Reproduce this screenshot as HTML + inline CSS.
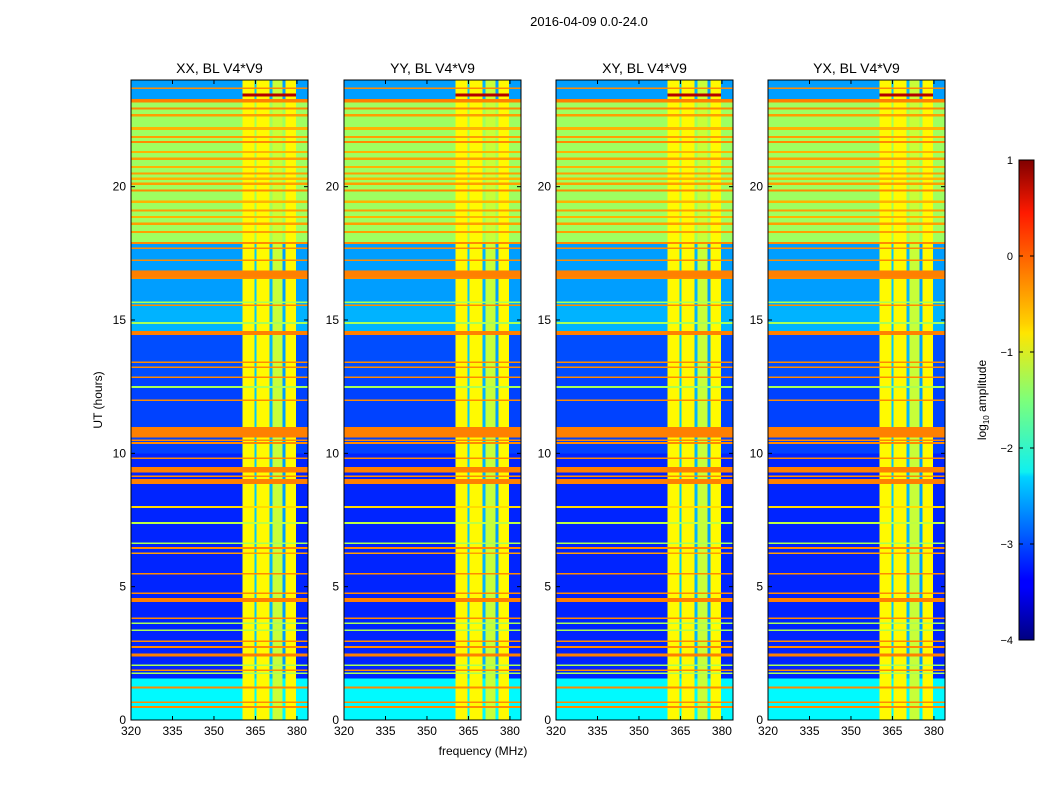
<!DOCTYPE html>
<html><head><meta charset="utf-8"><style>
body{margin:0;background:#fff;}
svg{display:block;font-family:"Liberation Sans",sans-serif;}
</style></head><body>
<svg id="fig" width="1050" height="800" viewBox="0 0 1050 800">
<rect width="1050" height="800" fill="#fff"/>
<text x="589" y="26" font-size="13" text-anchor="middle">2016-04-09 0.0-24.0</text>
<text x="483" y="755" font-size="12" text-anchor="middle">frequency (MHz)</text>
<text x="102" y="400" font-size="12" text-anchor="middle" transform="rotate(-90 102 400)">UT (hours)</text>
<g id="panels"></g>
<defs><linearGradient id="jet" x1="0" y1="1" x2="0" y2="0">
<stop offset="0" stop-color="#000080"/><stop offset="0.11" stop-color="#0000ff"/><stop offset="0.125" stop-color="#0000ff"/>
<stop offset="0.34" stop-color="#00d4ff"/><stop offset="0.35" stop-color="#0ff0f0"/><stop offset="0.5" stop-color="#7dff7a"/>
<stop offset="0.64" stop-color="#ffe600"/><stop offset="0.66" stop-color="#ffd000"/><stop offset="0.89" stop-color="#ff1a00"/><stop offset="1" stop-color="#800000"/>
</linearGradient></defs>
<g>
<rect x="1019" y="160" width="15" height="480" fill="url(#jet)" stroke="#000" stroke-width="1"/>
</g>
<g id="cbticks"></g>
<text x="986" y="400" font-size="12" text-anchor="middle" transform="rotate(-90 986 400)">log<tspan font-size="8" dy="3">10</tspan><tspan dy="-3"> amplitude</tspan></text>
</svg>
<script>
// ---- data ----
const panelTitles = ["XX, BL V4*V9","YY, BL V4*V9","XY, BL V4*V9","YX, BL V4*V9"];
const xTicks = [320,335,350,365,380];
const yTicks = [0,5,10,15,20];
const cbTicks = [1,0,-1,-2,-3,-4];
// background level per time span [startHour, endHour, log10 amplitude]
const baseSpans = [[0,1.57,-2.15],[1.57,10,-3.2],[10,12.9,-3.05],[12.9,14.5,-3.0],[14.5,15.7,-2.5],[15.7,17.9,-2.6],[17.9,23.2,-1.35],[23.2,24,-2.6]];
// frequency columns [startMHz, endMHz, level]
const colSpans = [[320,360.4,-9],[360.4,364.7,-0.85],[364.7,365.4,-2.4],[365.4,370.1,-0.85],[370.1,371.2,-2.5],[371.2,374.7,-1.15],[374.7,375.8,-2.6],[375.8,379.7,-0.85],[379.7,384,-3.4]];
// flagged lines [centerHour, thicknessHour, level, bandOnly]
const lineSpans = [
[0.5,0.06,-0.3,0],[0.68,0.06,-0.3,0],[1.23,0.06,-0.3,0],[1.76,0.06,-1.3,0],[1.87,0.06,-0.3,0],[2.06,0.06,-1.3,0],
[2.45,0.12,-0.25,0],[2.75,0.06,-0.3,0],[2.97,0.06,-0.3,0],[3.37,0.06,-1.3,0],[3.64,0.06,-1.3,0],[3.82,0.06,-0.3,0],
[4.51,0.14,-0.25,0],[4.76,0.06,-0.3,0],[5.5,0.06,-0.3,0],[6.26,0.06,-0.4,0],[6.46,0.06,-0.3,0],[6.64,0.06,-1.3,0],
[7.4,0.06,-1.2,0],[8.0,0.06,-0.7,0],[8.96,0.18,-0.25,0],[9.15,0.06,-0.3,0],[9.4,0.2,-0.25,0],[9.82,0.06,-0.3,0],
[10.4,0.06,-0.3,0],[10.5,0.06,-0.3,0],[10.8,0.38,-0.25,0],[12.0,0.06,-0.3,0],[12.5,0.06,-1.3,0],[12.86,0.06,-0.3,0],
[13.24,0.06,-0.3,0],[13.42,0.06,-0.3,0],[14.53,0.15,-0.25,0],[14.9,0.06,-1.3,0],[15.56,0.06,-0.3,0],[15.67,0.06,-1.3,0],
[16.57,0.06,-0.3,0],[16.74,0.27,-0.25,0],[17.25,0.06,-0.3,0],[17.7,0.06,-0.3,0],[17.9,0.06,-0.3,0],
[18.31,0.08,-0.4,0],[18.62,0.08,-0.4,0],[18.87,0.08,-0.5,0],[19.12,0.08,-0.4,0],[19.44,0.1,-0.5,0],[19.87,0.08,-0.3,0],
[20.12,0.08,-0.4,0],[20.31,0.08,-0.5,0],[20.5,0.08,-0.4,0],[20.75,0.08,-0.5,0],[21.06,0.08,-0.4,0],[21.31,0.08,-0.5,0],
[21.69,0.08,-0.3,0],[21.87,0.08,-0.4,0],[22.19,0.1,-0.5,0],[22.69,0.08,-0.4,0],[22.94,0.08,-0.3,0],
[23.23,0.14,-0.25,0],[23.45,0.12,0.75,1],[23.7,0.06,-0.3,0]
];
// ---- rendering ----
const NS="http://www.w3.org/2000/svg";
const panelX=[131,344,556,768], PW=177, PT=80, PB=720, FMIN=320, FMAX=384, TMAX=24, VMIN=-4, VMAX=1;
function jet(v){let x=(v-VMIN)/(VMAX-VMIN);x=Math.max(0,Math.min(1,x));
 const c=a=>Math.round(255*Math.max(0,Math.min(1,1.5-Math.abs(4*x-a))));
 return `rgb(${c(3)},${c(2)},${c(1)})`;}
function el(tag,attrs,parent){const e=document.createElementNS(NS,tag);for(const k in attrs)e.setAttribute(k,attrs[k]);parent.appendChild(e);return e;}
function valueAt(t,f){
 let band = f>=360.4 && f<379.7;
 let line=null;
 for(const l of lineSpans){ if(t>=l[0]-l[1]/2 && t<l[0]+l[1]/2 && (!l[3]||band)) line=l; }
 if(line) return line[2];
 let base=-3;
 for(const b of baseSpans) if(t>=b[0]&&t<b[1]) base=b[2];
 let col=-9;
 for(const c of colSpans) if(f>=c[0]&&f<c[1]) col=c[2];
 return Math.max(base,col);
}
let tb=new Set([0,TMAX]);
baseSpans.forEach(b=>{tb.add(b[0]);tb.add(b[1]);});
lineSpans.forEach(l=>{tb.add(l[0]-l[1]/2);tb.add(l[0]+l[1]/2);});
tb=[...tb].filter(v=>v>=0&&v<=TMAX).sort((a,b)=>a-b);
let fb=new Set([FMIN,FMAX]);colSpans.forEach(c=>{fb.add(c[0]);fb.add(c[1]);});
fb=[...fb].sort((a,b)=>a-b);
const root=document.getElementById('panels');
panelX.forEach((px,pi)=>{
 const xs=f=>px+(f-FMIN)/(FMAX-FMIN)*PW;
 const ys=t=>PB-(t/TMAX)*(PB-PT);
 const g=el('g',{},root);
 
 
 const hm=el('g',{'shape-rendering':'crispEdges'},g);
 
 
 for(let i=0;i<tb.length-1;i++){
  const t0=tb[i],t1=tb[i+1],tm=(t0+t1)/2;
  for(let j=0;j<fb.length-1;j++){
   const f0=fb[j],f1=fb[j+1];
   const r=el('rect',{x:xs(f0),y:ys(t1),width:xs(f1)-xs(f0)+0.3,height:ys(t0)-ys(t1)+0.3,fill:jet(valueAt(tm,(f0+f1)/2))},hm);
   
   
  }
 }
 const fr=el('rect',{x:px,y:PT,width:PW,height:PB-PT,fill:'none',stroke:'#000','stroke-width':1},g);
 
 
 const tt=el('text',{x:px+PW/2,y:PT-7,'font-size':14,'text-anchor':'middle'},g);tt.textContent=panelTitles[pi];
 
 
 xTicks.forEach(v=>{const x=xs(v);
  el('line',{x1:x,x2:x,y1:PB,y2:PB-4,stroke:'#000'},g);el('line',{x1:x,x2:x,y1:PT,y2:PT+4,stroke:'#000'},g);
  const l=el('text',{x:x,y:PB+15,'font-size':12,'text-anchor':'middle'},g);l.textContent=v;
  
  });
 yTicks.forEach(v=>{const y=ys(v);
  el('line',{x1:px,x2:px+4,y1:y,y2:y,stroke:'#000'},g);el('line',{x1:px+PW,x2:px+PW-4,y1:y,y2:y,stroke:'#000'},g);
  const l=el('text',{x:px-5,y:y+4,'font-size':12,'text-anchor':'end'},g);l.textContent=v;
  
  });
});
const cb=document.getElementById('cbticks');
cbTicks.forEach(v=>{const y=640-(v-VMIN)/(VMAX-VMIN)*480;
 el('line',{x1:1019,x2:1023,y1:y,y2:y,stroke:'#000'},cb);el('line',{x1:1034,x2:1030,y1:y,y2:y,stroke:'#000'},cb);
 const l=el('text',{x:1013,y:y+4,'font-size':11,'text-anchor':'end'},cb);l.textContent=(v<0?'\u2212'+(-v):v);
 
 });
</script>
</body></html>
